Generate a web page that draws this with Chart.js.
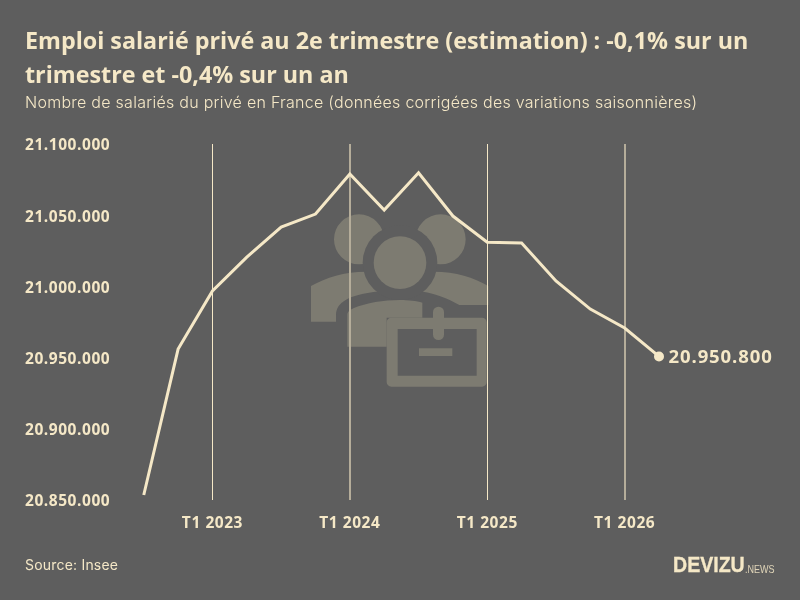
<!DOCTYPE html>
<html lang="fr">
<head>
<meta charset="utf-8">
<title>Emploi salarié privé</title>
<script src="https://cdn.jsdelivr.net/npm/chart.js@4"></script>
<style>
  html, body { margin: 0; padding: 0; background: #5e5e5e; }
  #wrap { position: relative; width: 800px; height: 600px; overflow: hidden; color: #f5e8c7; }
  #wrap div { position: absolute; white-space: nowrap; }
  #wrap canvas { position: absolute; left: 0; top: 0; }
  #title { left: 25px; top: 23px; font: 700 23.3px/34px "Open Sans", sans-serif; }
  #subtitle { left: 25px; top: 92px; font: 300 16px/20px Inter, sans-serif; letter-spacing: .27px; }
  #source { left: 25px; top: 556px; font: 400 14px Inter, sans-serif; letter-spacing: .2px; }
  #logo { left: 673px; top: 553px; font: 700 21.5px "Liberation Sans", sans-serif; -webkit-text-stroke: .3px #f5e8c7; transform: scaleX(.91); transform-origin: left; }
  #news { left: 745px; top: 563px; font: 400 11px "Liberation Sans", sans-serif; transform: scaleX(.82); transform-origin: left; opacity: .85; }
</style>
</head>
<body>
<div id="wrap">
  <canvas id="emploi" width="800" height="600"></canvas>
  <div id="title">Emploi salarié privé au 2e trimestre (estimation) : -0,1% sur un<br>trimestre et -0,4% sur un an</div>
  <div id="subtitle">Nombre de salariés du privé en France (données corrigées des variations saisonnières)</div>
  <div id="source">Source: Insee</div>
  <div id="logo">DEVIZU</div>
  <div id="news">.NEWS</div>
</div>
<script>
const cream = '#f5e8c7';
const quarters = [
  'T3 2022', 'T4 2022',
  'T1 2023', 'T2 2023', 'T3 2023', 'T4 2023',
  'T1 2024', 'T2 2024', 'T3 2024', 'T4 2024',
  'T1 2025', 'T2 2025', 'T3 2025', 'T4 2025',
  'T1 2026', 'T2 2026'
];
const salaries = [
  20853500, 20956000,
  20996800, 21020600, 21041700, 21050800,
  21079000, 21053600, 21079800, 21049400,
  21031000, 21030500, 21003800, 20984100,
  20970800, 20950800
];
// these two rules sit between pixels: wider and duller than the others
const softRules = ['T1 2024', 'T1 2026'];

const formatFr = v => String(v).replace(/\B(?=(\d{3})+$)/g, '.');

// people + briefcase watermark behind the line
const watermark = {
  id: 'watermark',
  beforeDraw(chart) {
    const c = chart.ctx;
    c.save();
    c.translate(300, 200);
    c.scale(1 / 3, 1 / 3);
    c.fillStyle = '#7d7b71';
    const heads = new Path2D();
    heads.arc(177, 118, 75, 0, Math.PI * 2);
    heads.moveTo(497, 118);
    heads.arc(422, 118, 75, 0, Math.PI * 2);
    c.fill(heads);
    c.fill(new Path2D('M33 365 V258 C80 232 130 215 200 215 H400 C470 215 520 232 565 258 V315 H478 C440 292 400 280 370 275 H225 C150 285 108 305 108 345 V365 Z'));
    // ring around the middle head
    c.fillStyle = '#5e5e5e';
    c.beginPath();
    c.arc(300, 188, 112, 0, Math.PI * 2);
    c.fill();
    c.fillStyle = '#7d7b71';
    c.beginPath();
    c.arc(300, 188, 79, 0, Math.PI * 2);
    c.fill();
    c.fill(new Path2D('M142 440 V345 C142 335 150 330 160 325 C200 308 250 300 300 300 C325 300 350 303 367 308 V353 H260 V440 Z'));
    // briefcase
    c.beginPath();
    c.roundRect(260, 353, 300, 207, 14);
    c.rect(293, 387, 237, 140);
    c.fill('evenodd');
    c.beginPath();
    c.roundRect(399, 320, 33, 100, 16);
    c.fill();
    c.beginPath();
    c.rect(357, 445, 100, 23);
    c.fill();
    c.restore();
    // tick labels are set a little wide
    c.letterSpacing = '0.55px';
  }
};

// value next to the last point
const endLabel = {
  id: 'endLabel',
  afterDatasetsDraw(chart) {
    const pt = chart.getDatasetMeta(0).data[salaries.length - 1];
    const c = chart.ctx;
    c.save();
    c.fillStyle = cream;
    c.font = '700 18.5px "Open Sans", sans-serif';
    c.letterSpacing = '0.9px';
    c.textBaseline = 'middle';
    c.fillText(formatFr(salaries[salaries.length - 1]), 668.5, pt.y + 1.5);
    c.restore();
  }
};

const ruleColor = ctx => {
  const q = quarters[ctx.index];
  if (!String(q).startsWith('T1')) return 'transparent';
  return softRules.includes(q) ? '#b5ad9a' : cream;
};

new Chart(document.getElementById('emploi'), {
  type: 'line',
  data: {
    labels: quarters,
    datasets: [{
      data: salaries,
      borderColor: cream,
      borderWidth: 3,
      tension: 0,
      pointRadius: ctx => ctx.dataIndex === salaries.length - 1 ? 5 : 0,
      pointBackgroundColor: cream,
      pointBorderWidth: 0,
      clip: false
    }]
  },
  options: {
    responsive: false,
    animation: false,
    layout: { padding: { left: 25, right: 141, top: 144, bottom: 68 } },
    plugins: {
      legend: { display: false },
      tooltip: { enabled: false }
    },
    scales: {
      x: {
        offset: false,
        border: { display: false },
        afterFit: scale => { scale.height = 32; },
        grid: {
          drawTicks: false,
          color: ruleColor,
          lineWidth: ctx => softRules.includes(quarters[ctx.index]) ? 2 : 1
        },
        ticks: {
          autoSkip: false,
          maxRotation: 0,
          padding: 14,
          color: cream,
          font: { family: 'Open Sans', size: 15.5, weight: '700' },
          callback: (v, i) => quarters[i].startsWith('T1') ? quarters[i] : ''
        }
      },
      y: {
        min: 20850000,
        max: 21100000,
        border: { display: false },
        grid: { display: false, drawTicks: false },
        afterFit: scale => { scale.width = 118.75; },
        ticks: {
          stepSize: 50000,
          crossAlign: 'far',
          labelOffset: 2,
          color: cream,
          font: { family: 'Open Sans', size: 15.5, weight: '700' },
          callback: v => formatFr(v)
        }
      }
    }
  },
  plugins: [watermark, endLabel]
});
</script>
</body>
</html>
